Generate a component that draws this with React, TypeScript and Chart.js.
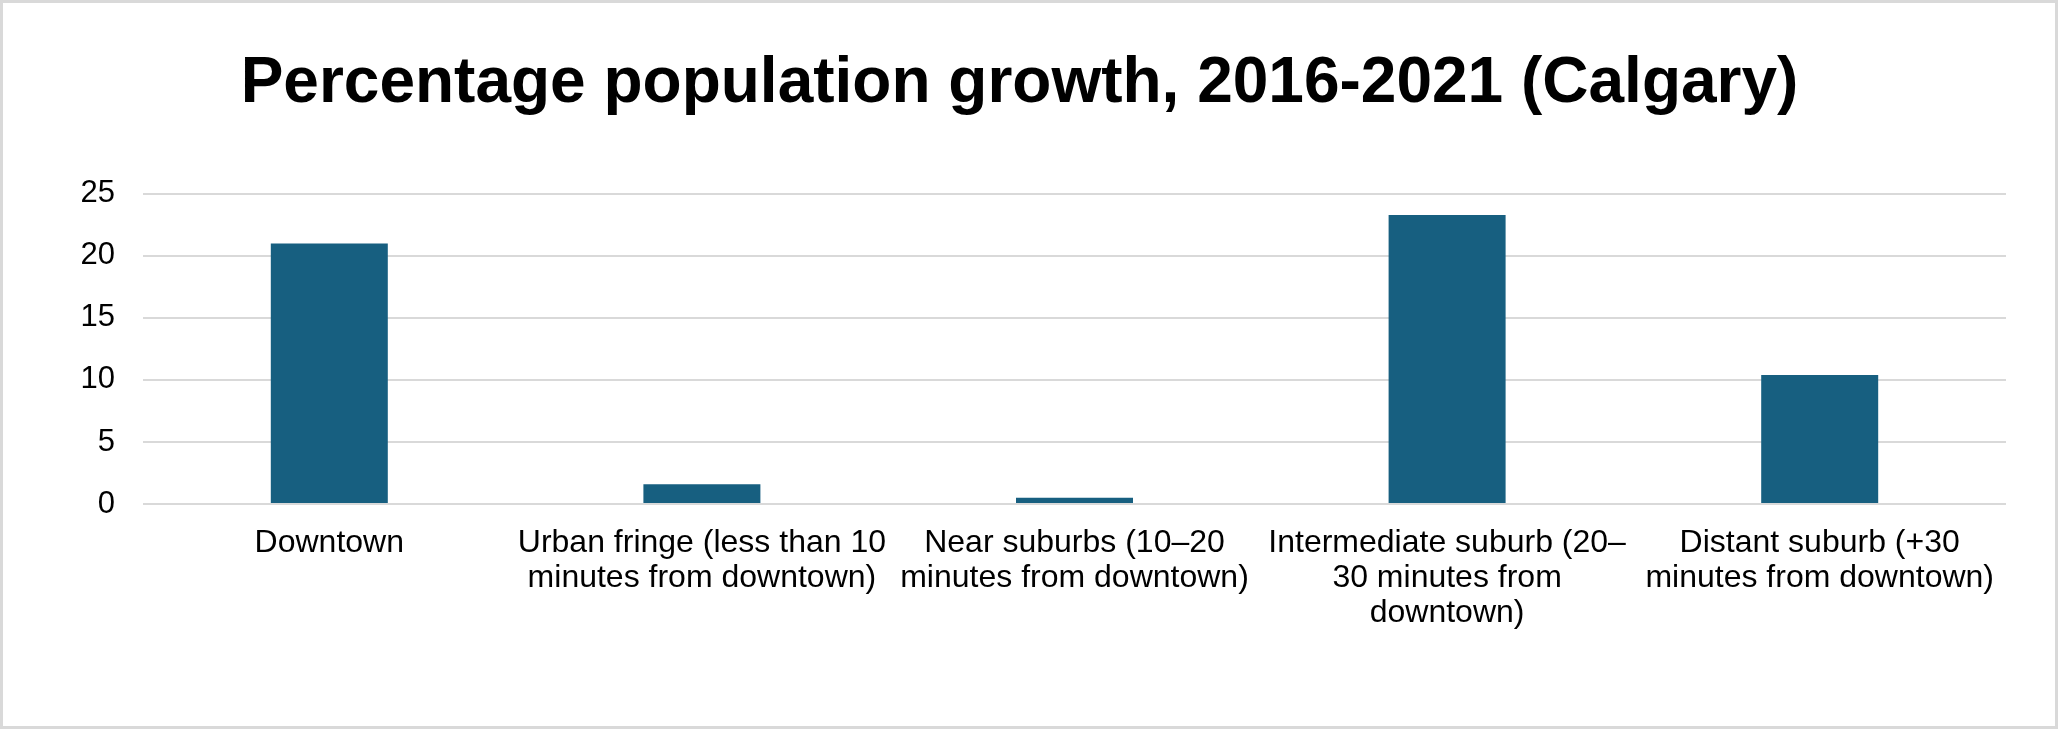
import React, { useEffect, useRef } from "react";
import { Chart, registerables } from "chart.js";

Chart.register(...registerables);

const TITLE = "Percentage population growth, 2016-2021 (Calgary)";
const CATEGORIES: string[][] = [
  ["Downtown"],
  ["Urban fringe (less than 10", "minutes from downtown)"],
  ["Near suburbs (10–20", "minutes from downtown)"],
  ["Intermediate suburb (20–", "30 minutes from", "downtown)"],
  ["Distant suburb (+30", "minutes from downtown)"],
];
const GROWTH: number[] = [21.0, 1.6, 0.5, 23.3, 10.4];
const Y_MIN = 0;
const Y_MAX = 25;
const Y_STEP = 5;

const FONT = "'Liberation Sans', Arial, sans-serif";

export default function App() {
  const ref = useRef<HTMLCanvasElement | null>(null);

  useEffect(() => {
    document.body.style.margin = "0";
    const canvas = ref.current;
    if (!canvas) return;
    const chart = new Chart(canvas, {
      type: "bar",
      data: {
        labels: CATEGORIES,
        datasets: [
          {
            data: GROWTH,
            backgroundColor: "#175f80",
            borderWidth: 0,
            categoryPercentage: 1,
            barPercentage: 0.314,
          },
        ],
      },
      options: {
        animation: false,
        responsive: false,
        maintainAspectRatio: false,
        devicePixelRatio: 1,
        layout: { padding: { left: 0, right: 19, top: 0, bottom: 0 } },
        plugins: {
          legend: { display: false },
          tooltip: { enabled: false },
          title: {
            display: true,
            text: TITLE,
            color: "#000000",
            font: { family: FONT, size: 64, weight: "bold", lineHeight: 1.2 },
            padding: { top: 43, bottom: 71 },
          },
        },
        scales: {
          x: {
            grid: { display: false, drawTicks: false },
            border: { display: false },
            ticks: {
              autoSkip: false,
              maxRotation: 0,
              minRotation: 0,
              color: "#000000",
              padding: 22,
              font: { family: FONT, size: 32, lineHeight: 1.094 },
            },
            afterFit: (scale: any) => {
              scale.height = 222;
            },
          },
          y: {
            min: Y_MIN,
            max: Y_MAX,
            grid: { color: "#d9d9d9", lineWidth: 2, drawTicks: false },
            border: { display: false },
            ticks: {
              stepSize: Y_STEP,
              color: "#000000",
              padding: 28,
              font: { family: FONT, size: 31 },
            },
            afterFit: (scale: any) => {
              scale.width = 140;
            },
          },
          spacer: {
            type: "linear",
            position: "right",
            display: true,
            grid: { display: false, drawTicks: false },
            border: { display: false },
            ticks: { display: false },
            afterFit: (scale: any) => {
              scale.width = 30;
            },
          },
        },
      },
    });
    return () => chart.destroy();
  }, []);

  return (
    <div
      style={{
        position: "absolute",
        left: 0,
        top: 0,
        width: 2058,
        height: 729,
        boxSizing: "border-box",
        border: "3px solid #d9d9d9",
        background: "#ffffff",
      }}
    >
      <canvas ref={ref} width={2052} height={723} style={{ display: "block" }} />
    </div>
  );
}
